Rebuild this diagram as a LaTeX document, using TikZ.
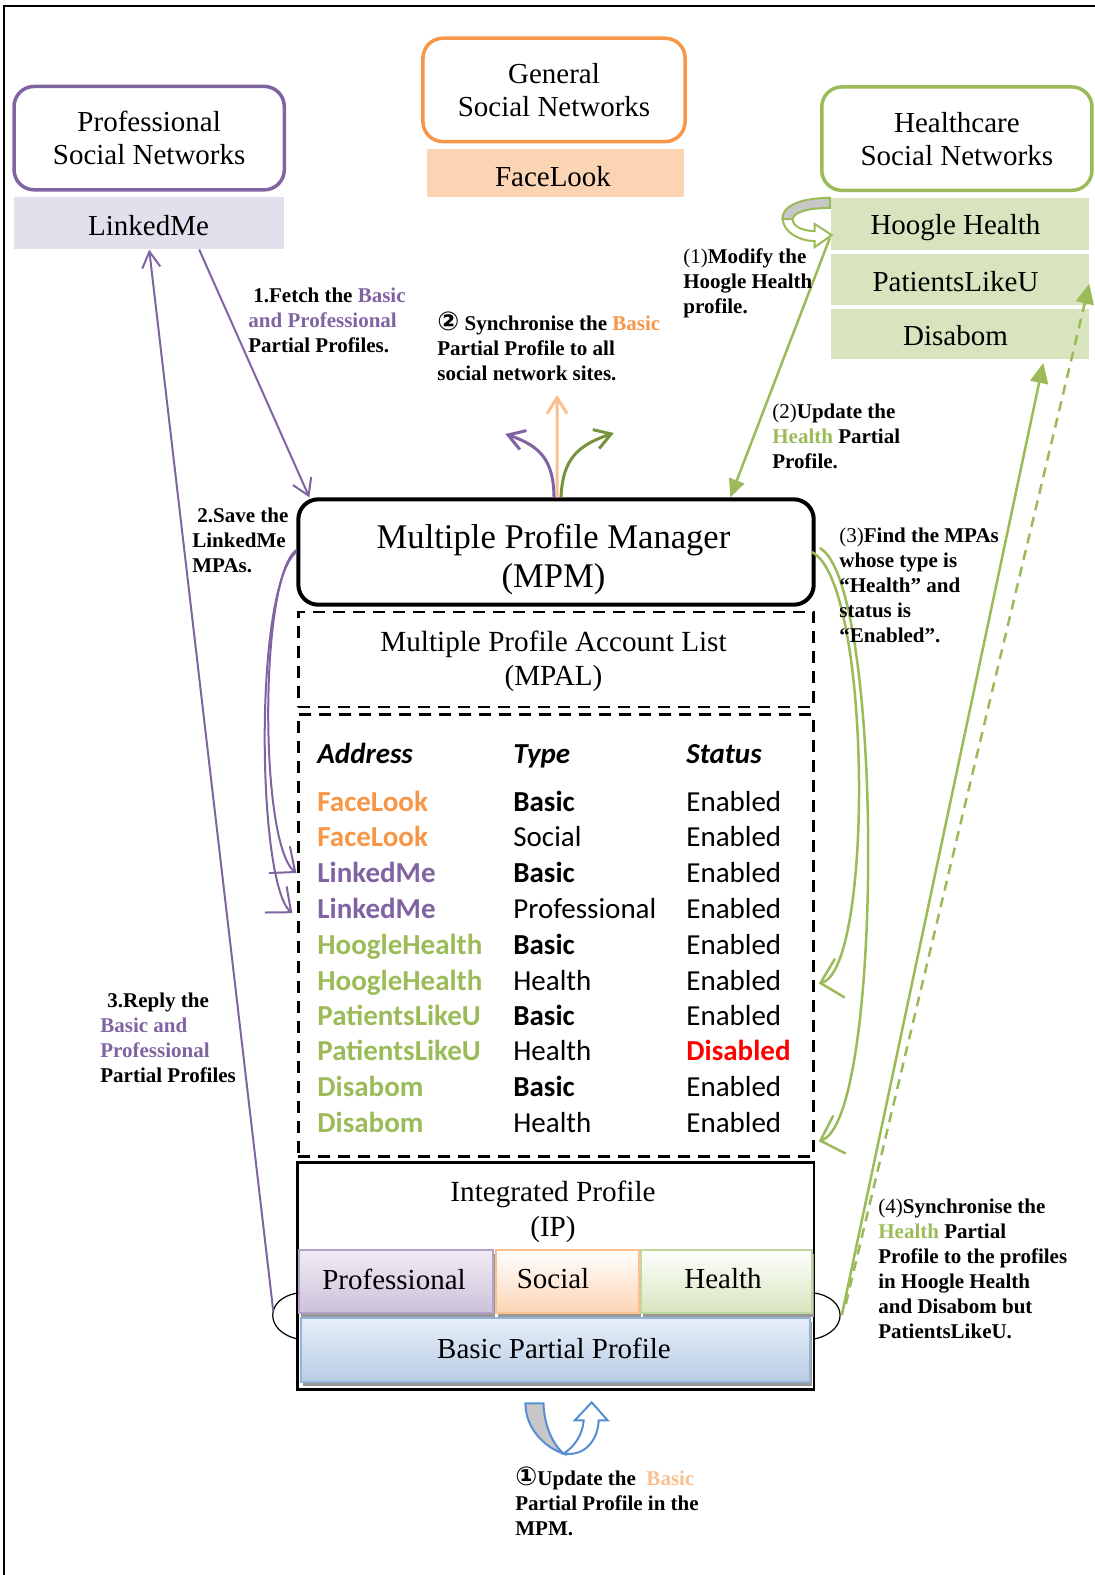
\documentclass[tikz,border=0pt]{standalone}
\usepackage{fontspec}
\setmainfont{Liberation Serif}
\newfontfamily\tablefont{Carlito}
\newfontfamily\circfont{DejaVu Sans}
\usetikzlibrary{arrows.meta,shadows}

\definecolor{ppurple}{HTML}{8064A2}
\definecolor{porange}{HTML}{F79646}
\definecolor{pgreen}{HTML}{9BBB59}
\definecolor{lilac}{HTML}{E4DFEC}
\definecolor{peach}{HTML}{FBD4B4}
\definecolor{sage}{HTML}{D7E4BD}
\definecolor{apricot}{HTML}{FAC090}
\definecolor{olive}{HTML}{77933C}
\definecolor{lilacedge}{HTML}{B3A2C7}
\definecolor{lilacbot}{HTML}{CCC1DA}
\definecolor{peachbot}{HTML}{FCD5B5}
\definecolor{sageedge}{HTML}{C3D69B}
\definecolor{skyedge}{HTML}{95B3D7}
\definecolor{skytop}{HTML}{E6EEF7}
\definecolor{skybot}{HTML}{B9CDE5}
\definecolor{arrowblue}{HTML}{558ED5}

\newcommand{\bxfont}{\fontsize{14.5}{16.5}\selectfont}
\newcommand{\lblfont}{\bfseries\fontsize{10.5}{12.5}\selectfont}
\newcommand{\circnum}[1]{{\circfont\bfseries\fontsize{13}{12.5}\selectfont #1}}

\begin{document}
\begin{tikzpicture}[x=0.50229pt,y=-0.50229pt,
  netbox/.style={draw, rounded corners=10pt, line width=1.75pt, fill=white, align=center,
    minimum width=135.1pt, minimum height=51.7pt, font=\bxfont},
  sitebox/.style={minimum width=129.1pt, inner sep=0pt},
  txt/.style={font=\bxfont, align=center, inner sep=0pt},
  dashbox/.style={draw, line width=1.25pt, dash pattern=on 6pt off 4pt},
  part/.style={draw, line width=1pt, minimum height=31.6pt, inner sep=0pt,
    drop shadow={shadow xshift=1pt, shadow yshift=-2pt, fill=black!40, opacity=1}},
  cell/.style={font=\tablefont\fontsize{14.5}{17}\selectfont, anchor=mid west, inner sep=0pt},
  head/.style={font=\tablefont\bfseries\itshape\fontsize{14.5}{17}\selectfont, anchor=mid west, inner sep=0pt},
  lbl/.style={font=\lblfont, align=left, anchor=north west, inner sep=0pt},
  purpleline/.style={draw=ppurple, line width=1pt},
  greenline/.style={draw=pgreen, line width=1.25pt},
  barb/.style={-{Straight Barb[length=8pt,width=10pt]}},
  bigbarb/.style={-{Straight Barb[length=10pt,width=20pt]}},
  solidhead/.style={-{Triangle[length=9pt,width=8pt]}}
]
\useasboundingbox (0pt,0pt) rectangle (547pt,-787.5pt);
\draw[line width=0.75pt] (4,1575) -- (4,6) -- (1094,6);

% ---- social network groups ----
\node[netbox, draw=ppurple] (profnet) at (148.5,137.5) {Professional\\Social Networks};
\node[sitebox, fill=lilac, minimum width=135.1pt, minimum height=26.1pt] (linkedme) at (148.5,222) {};

\node[netbox, draw=porange, minimum width=131.1pt] (gennet) at (551.5,89.5) {General\\Social Networks};
\node[sitebox, fill=peach, minimum width=128.6pt, minimum height=24.1pt] (facelook) at (553,172) {};

\node[netbox, draw=pgreen] (healthnet) at (952.5,138) {Healthcare\\Social Networks};
\node[sitebox, fill=sage, minimum height=26.1pt] (hoogle) at (955.5,223) {};
\node[sitebox, fill=sage, minimum height=25.6pt] (plu) at (955.5,278.5) {};
\node[sitebox, fill=sage, minimum height=24.6pt] (disabom) at (955.5,332.5) {};

% ---- manager, account list, table ----
\node[draw, line width=2pt, rounded corners=10pt, minimum width=257.7pt, minimum height=52.7pt]
  (mpm) at (553.5,549.5) {};
\node[dashbox, minimum width=257.7pt, minimum height=47.7pt] (mpal) at (553.5,656.5) {};
\node[dashbox, minimum width=257.7pt, minimum height=221pt] (mpatable) at (553.5,931) {};

% ---- integrated profile ----
\node[draw, line width=1.2pt, minimum width=258.2pt, minimum height=113.5pt] (ip) at (553,1270) {};
\node[part, draw=lilacedge, top color=white!70!lilacbot, bottom color=lilacbot, minimum width=96.9pt]
  (ppro) at (394.5,1275.5) {};
\node[part, draw=apricot, top color=white, bottom color=peachbot, minimum width=71.3pt]
  (psoc) at (565,1275.5) {};
\node[part, draw=sageedge, top color=white, bottom color=sage, minimum width=85.4pt]
  (phea) at (723,1275.5) {};
\node[part, draw=skyedge, top color=skytop, bottom color=skybot, minimum width=254.2pt, minimum height=32.1pt]
  (pbas) at (553,1344) {};

% side brackets of the integrated profile
\coordinate (arcL) at (272,1305);
\coordinate (arcR) at (838,1309);
\draw[line width=0.6pt] (297,1287) .. controls (263,1292) and (263,1326) .. (297,1333);
\draw[line width=0.6pt] (810,1287) .. controls (845,1292) and (845,1326) .. (810,1333);

% ---- professional flow (purple) ----
\coordinate (fetchS) at ([xshift=25pt]linkedme.south);
\coordinate (fetchE) at ([xshift=6.5pt]mpm.north west);
\draw[purpleline, barb] (fetchS) -- (fetchE);
\draw[purpleline, -{Straight Barb[length=8pt,width=9pt]}] (arcL) -- (linkedme.south);

\coordinate (saveA) at (295,869);
\coordinate (saveB) at (291,909);
\draw[purpleline, -{Straight Barb[length=10pt,width=17pt]}]
  ([yshift=1pt]mpm.west) .. controls (258,575) and (258,840) .. (saveA);
\draw[purpleline, -{Straight Barb[length=10pt,width=17pt]}]
  ([yshift=0pt]mpm.west) .. controls (252,585) and (256,880) .. (saveB);

% ---- synchronisation fan above the manager ----
\coordinate (syncP) at (503,432);
\coordinate (syncO) at (554.5,393);
\coordinate (syncG) at (611,431);
\draw[draw=apricot, line width=1.5pt, barb] ([xshift=0.5pt]mpm.north) -- (syncO);
\draw[draw=ppurple, line width=1.5pt, barb] ([xshift=-1pt]mpm.north) .. controls (551,458) and (538,444) .. (syncP);
\draw[draw=olive, line width=1.5pt, barb] ([xshift=2.5pt]mpm.north) .. controls (560,456) and (576,443) .. (syncG);

% ---- health flow (green) ----
\coordinate (modS) at (826,237);
\coordinate (modE) at ([xshift=87.15pt]mpm.north);
\draw[greenline, solidhead] (modS) -- (modE);

% modify loop beside Hoogle Health
\filldraw[draw=pgreen, fill=black!22, line width=1pt]
  (826,197) .. controls (795,197) and (778,206) .. (779,218) -- (789,218)
  .. controls (790,211) and (805,207) .. (826,207) -- cycle;
\filldraw[draw=pgreen, fill=white, line width=1pt]
  (779,218) .. controls (780,232) and (797,240) .. (811,240) -- (811,246) -- (828,234)
  -- (811,223) -- (811,230) .. controls (800,230) and (789,226) .. (789,218) -- cycle;

\coordinate (findA) at (815,979);
\coordinate (findB) at (815,1136);
\draw[greenline, bigbarb] ([xshift=-2pt]mpm.east) .. controls (868,578) and (870,965) .. (findA);
\draw[greenline, bigbarb] ([xshift=2pt,yshift=2pt]mpm.east) .. controls (880,580) and (880,1115) .. (findB);

\coordinate (disTip) at ([xshift=41.7pt,yshift=-2pt]disabom.south);
\coordinate (arcR2) at (842,1298);
\draw[greenline, -{Triangle[length=10pt,width=9pt]}] (arcR) -- (disTip);
\draw[greenline, dash pattern=on 5pt off 3.5pt, -{Triangle[length=10pt,width=9pt]}] (arcR2) -- ([yshift=-2pt]plu.east);

% update loop under the integrated profile
\filldraw[draw=arrowblue, fill=black!22, line width=1pt]
  (523,1397) -- (541,1397) .. controls (542,1420) and (550,1437) .. (561,1447)
  .. controls (540,1440) and (523,1420) .. (523,1397) -- cycle;
\filldraw[draw=arrowblue, fill=white, line width=1pt]
  (561,1447) .. controls (572,1440) and (580,1428) .. (581,1414) -- (572,1414) -- (589,1396)
  -- (605,1414) -- (596,1414) .. controls (595,1434) and (582,1450) .. (561,1447) -- cycle;

% ---- texts ----
\begin{scope}[x=0.5pt,y=-0.5pt]
\node[txt] (linkedmeT) at (148.5,226) {LinkedMe};
\node[txt] (facelookT) at (553,177) {FaceLook};
\node[txt] (hoogleT) at (955.5,228) {Hoogle Health};
\node[txt] (pluT) at (955.5,281.5) {PatientsLikeU};
\node[txt] (disabomT) at (955.5,336) {Disabom};

\node[txt, font=\fontsize{17.3}{19.5}\selectfont] (mpmT) at (553.5,559) {Multiple Profile Manager\\(MPM)};
\node[txt, font=\fontsize{14.6}{17}\selectfont] (mpalT) at (553.5,661) {Multiple Profile Account List\\(MPAL)};

\node[head] (hAddr) at (317,759) {Address};
\node[head] (hType) at (513,759) {Type};
\node[head] (hStat) at (686,759) {Status};

\node[cell, text=porange] (a1) at (317,807) {\bfseries FaceLook};
\node[cell] (t1) at (513,807) {\bfseries Basic};
\node[cell] (s1) at (686,807) {Enabled};
\node[cell, text=porange] (a2) at (317,842) {\bfseries FaceLook};
\node[cell] (t2) at (513,842) {Social};
\node[cell] (s2) at (686,842) {Enabled};
\node[cell, text=ppurple] (a3) at (317,878) {\bfseries LinkedMe};
\node[cell] (t3) at (513,878) {\bfseries Basic};
\node[cell] (s3) at (686,878) {Enabled};
\node[cell, text=ppurple] (a4) at (317,914) {\bfseries LinkedMe};
\node[cell] (t4) at (513,914) {Professional};
\node[cell] (s4) at (686,914) {Enabled};
\node[cell, text=pgreen] (a5) at (317,950) {\bfseries HoogleHealth};
\node[cell] (t5) at (513,950) {\bfseries Basic};
\node[cell] (s5) at (686,950) {Enabled};
\node[cell, text=pgreen] (a6) at (317,986) {\bfseries HoogleHealth};
\node[cell] (t6) at (513,986) {Health};
\node[cell] (s6) at (686,986) {Enabled};
\node[cell, text=pgreen] (a7) at (317,1021) {\bfseries PatientsLikeU};
\node[cell] (t7) at (513,1021) {\bfseries Basic};
\node[cell] (s7) at (686,1021) {Enabled};
\node[cell, text=pgreen] (a8) at (317,1056) {\bfseries PatientsLikeU};
\node[cell] (t8) at (513,1056) {Health};
\node[cell, text=red] (s8) at (686,1056) {\bfseries Disabled};
\node[cell, text=pgreen] (a9) at (317,1092) {\bfseries Disabom};
\node[cell] (t9) at (513,1092) {\bfseries Basic};
\node[cell] (s9) at (686,1092) {Enabled};
\node[cell, text=pgreen] (a10) at (317,1128) {\bfseries Disabom};
\node[cell] (t10) at (513,1128) {Health};
\node[cell] (s10) at (686,1128) {Enabled};

\node[txt, font=\fontsize{14.6}{17.5}\selectfont] (iptitle) at (553,1212) {Integrated Profile\\(IP)};
\node[txt] (pproT) at (394,1279) {Professional};
\node[txt] (psocT) at (553,1279) {Social};
\node[txt] (pheaT) at (723,1279) {Health};
\node[txt] (pbasT) at (554,1348) {Basic Partial Profile};

\node[lbl] (lFetch) at (248,288) {\hspace*{2.5pt}1.Fetch the \textcolor{ppurple}{Basic}\\
  \textcolor{ppurple}{and Professional}\\Partial Profiles.};
\node[lbl] (lSave) at (192,508) {\hspace*{2.5pt}2.Save the\\LinkedMe\\MPAs.};
\node[lbl] (lReply) at (100,993) {\hspace*{3.5pt}3.Reply the\\\textcolor{ppurple}{Basic and}\\
  \textcolor{ppurple}{Professional}\\Partial Profiles};
\node[lbl] (lSync) at (437,312) {\circnum{②} Synchronise the \textcolor{porange}{Basic}\\
  Partial Profile to all\\social network sites.};
\node[lbl] (lModify) at (683,248) {{\mdseries(1)}Modify the\\Hoogle Health\\profile.};
\node[lbl] (lUpdH) at (772,404) {{\mdseries(2)}Update the\\\textcolor{pgreen}{Health} Partial\\Profile.};
\node[lbl] (lFind) at (839,528) {{\mdseries(3)}Find the MPAs\\whose type is\\“Health” and\\status is\\“Enabled”.};
\node[lbl] (lSyncH) at (878,1199) {{\mdseries(4)}Synchronise the\\\textcolor{pgreen}{Health} Partial\\
  Profile to the profiles\\in Hoogle Health\\and Disabom but\\PatientsLikeU.};
\node[lbl] (lUpdB) at (515,1466) {\circnum{①}Update the \ \textcolor{apricot}{Basic}\\
  Partial Profile in the\\MPM.};
\end{scope}
\end{tikzpicture}
\end{document}
